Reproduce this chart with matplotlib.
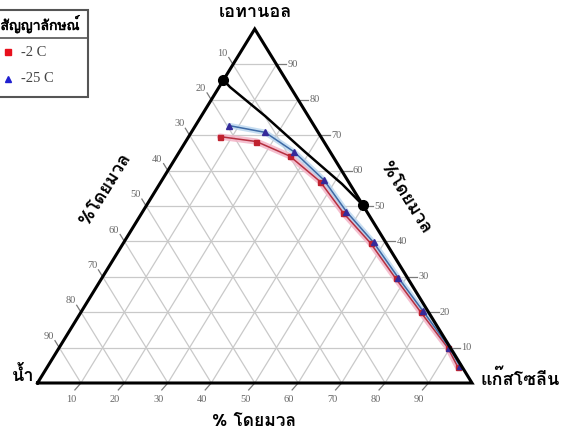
import numpy as np
import matplotlib
matplotlib.use('Agg')
import matplotlib.pyplot as plt
from matplotlib import font_manager as fm
from matplotlib.ft2font import FT2Font
from matplotlib.patches import Rectangle
import matplotlib.patheffects as pe

# ---------------- data (mass %) ----------------
grid_levels = [10, 20, 30, 40, 50, 60, 70, 80, 90]
tick_labels = ['10', '20', '30', '40', '50', '60', '70', '80', '90']

red_ethanol = [69.6, 68.2, 64.1, 56.9, 48.1, 39.5, 29.6, 20.1, 9.9, 4.6]
red_gasoline = [7.2, 16.3, 26.0, 36.6, 46.3, 56.9, 67.6, 78.1, 89.5, 94.4]

blue_ethanol = [72.7, 70.8, 65.3, 57.3, 48.4, 39.7, 29.8, 20.2, 10.0, 4.7]
blue_gasoline = [7.8, 17.0, 26.4, 37.3, 46.9, 57.5, 68.1, 78.7, 89.8, 94.9]

black_ethanol = [85.6, 83.6, 75.4, 65.3, 56.2, 50.3]
black_gasoline = [0.0, 2.5, 14.7, 28.9, 42.0, 49.7]

legend_title = 'สัญญาลักษณ์'
legend_labels = ['-2 C', '-25 C']
top_label = 'เอทานอล'
left_label = 'น้ำ'
right_label = 'แก๊สโซลีน'
axis_label = '%โดยมวล'
bottom_label = '% โดยมวล'

# ---------------- fonts ----------------
def thai_fonts():
    found = {}
    for f in fm.fontManager.ttflist:
        try:
            if 0x0E2D in FT2Font(f.fname).get_charmap():
                found.setdefault(f.name, []).append(f.weight)
        except Exception:
            pass
    def wnum(w):
        if isinstance(w, (int, float)):
            return w
        return {'bold': 700, 'heavy': 800, 'black': 900, 'semibold': 600,
                'demibold': 600}.get(str(w).lower(), 400)
    names = list(found)
    bold = [n for n in names if any(wnum(w) >= 600 for w in found[n])]
    pref = sorted(names, key=lambda n: (n not in bold, 'Noto Sans Thai' not in n, 'Looped' in n))
    return pref, bold

thai, thai_bold = thai_fonts()
THAI = (thai[:1] if thai else []) + ['DejaVu Sans']
HAS_BOLD = bool(thai) and thai[0] in thai_bold
SERIF = ['Liberation Serif', 'DejaVu Serif']
BOLD_FX = [] if HAS_BOLD else [pe.withStroke(linewidth=0.9, foreground='black')]


def proj(eth, gas):
    e = np.asarray(eth, float) / 100.0
    g = np.asarray(gas, float) / 100.0
    return g + e / 2.0, e


fig = plt.figure(figsize=(5.63, 4.36), dpi=100)
W, H = 563.0, 436.0
x0, x1, ybot, ytop = 37.5, 472.0, 383.0, 29.0
ax = fig.add_axes([x0 / W, (H - ybot) / H, (x1 - x0) / W, (ybot - ytop) / H])
ax.set_xlim(0, 1)
ax.set_ylim(0, 1)
ax.axis('off')

gcol = '#c9c9c9'
tcol = '#7a7a7a'
lcol = '#666666'
tl = 0.028

for lev, lab in zip(grid_levels, tick_labels):
    v = lev / 100.0
    ax.plot([v / 2, 1 - v / 2], [v, v], color=gcol, lw=0.9, zorder=1)
    ax.plot([1 - v / 2, 1 - v / 2 + 0.023], [v, v], color=tcol, lw=0.9, zorder=1, clip_on=False)
    ax.text(1 - v / 2 + 0.026, v, lab, fontsize=7.5, family=SERIF, color=lcol,
            ha='left', va='center')
    ax.plot([v, v + (1 - v) / 2], [0, 1 - v], color=gcol, lw=0.9, zorder=1)
    ax.plot([v, v - tl / 2], [0, -tl * 0.7], color=tcol, lw=0.9, zorder=1, clip_on=False)
    ax.text(v - 0.022, -0.048, lab, fontsize=7.5, family=SERIF, color=lcol,
            ha='center', va='center')
    xe, ye = (1 - v) / 2, 1 - v
    ax.plot([1 - v, xe], [0, ye], color=gcol, lw=0.9, zorder=1)
    ax.plot([xe, xe - tl * 0.35], [ye, ye + tl * 0.7], color=tcol, lw=0.9, zorder=1, clip_on=False)
    ax.text(xe - 0.024, ye + 0.032, lab, fontsize=7.5, family=SERIF, color=lcol,
            ha='center', va='center')

ax.plot([0, 1, 0.5, 0], [0, 0, 1, 0], color='black', lw=2.2, zorder=6,
        solid_joinstyle='miter', clip_on=False)

rx, ry = proj(red_ethanol, red_gasoline)
bx, by = proj(blue_ethanol, blue_gasoline)
ax.plot(rx, ry, color='#f3b3c6', lw=4.5, alpha=0.85, zorder=2,
        solid_capstyle='round', solid_joinstyle='round')
ax.plot(bx, by, color='#b5d3ee', lw=4.0, alpha=0.75, zorder=2,
        solid_capstyle='round', solid_joinstyle='round')
ax.plot(rx, ry, color='#b52f3f', lw=1.1, zorder=3, solid_joinstyle='round')
ax.plot(bx, by, color='#3d6aa6', lw=1.1, zorder=3, solid_joinstyle='round')
ax.plot(rx, ry, ls='none', marker='s', ms=3.6, color='#c0222f', zorder=4)
ax.plot(bx, by, ls='none', marker='^', ms=4.6, color='#352a9a', zorder=4)

kx, ky = proj(black_ethanol, black_gasoline)
ax.plot(kx, ky, color='black', lw=1.8, zorder=5, solid_joinstyle='round')
ax.plot([kx[0], kx[-1]], [ky[0], ky[-1]], ls='none', marker='o', ms=7,
        color='black', zorder=7, clip_on=False)

# ---------------- annotation overlay in pixels ----------------
pa = fig.add_axes([0, 0, 1, 1], zorder=10)
pa.set_xlim(0, W)
pa.set_ylim(H, 0)
pa.axis('off')
pa.patch.set_alpha(0)

def ttext(x, y, s, size=12.5, rot=0):
    pa.text(x, y, s, family=THAI, fontsize=size, fontweight='bold', ha='center', va='center',
            rotation=rot, rotation_mode='anchor', path_effects=BOLD_FX)

ttext(255, 12, top_label, 13)
ttext(23, 375, left_label, 13)
ttext(520, 379, right_label, 13)
ttext(254, 421, bottom_label, 12.5)
ttext(105, 189, axis_label, 13, 58)
ttext(406, 198, axis_label, 13, -58)

pa.add_patch(Rectangle((-3, 10), 91, 87, fill=False, edgecolor='#555555', lw=1.5, clip_on=False))
pa.plot([-3, 88], [38, 38], color='#555555', lw=1.2)
pa.text(40, 24, legend_title, family=THAI, fontsize=10, ha='center', va='center',
        path_effects=[pe.withStroke(linewidth=0.4, foreground='black')])
pa.plot([8], [52], ls='none', marker='s', ms=4.5, color='#e8101c')
pa.text(21, 52, legend_labels[0], family=SERIF, fontsize=10.5, color='#444444', ha='left', va='center')
pa.plot([8], [79], ls='none', marker='^', ms=5, color='#2020d0')
pa.text(21, 79, legend_labels[1], family=SERIF, fontsize=10.5, color='#444444', ha='left', va='center')

fig.savefig('out.png', dpi=100)
